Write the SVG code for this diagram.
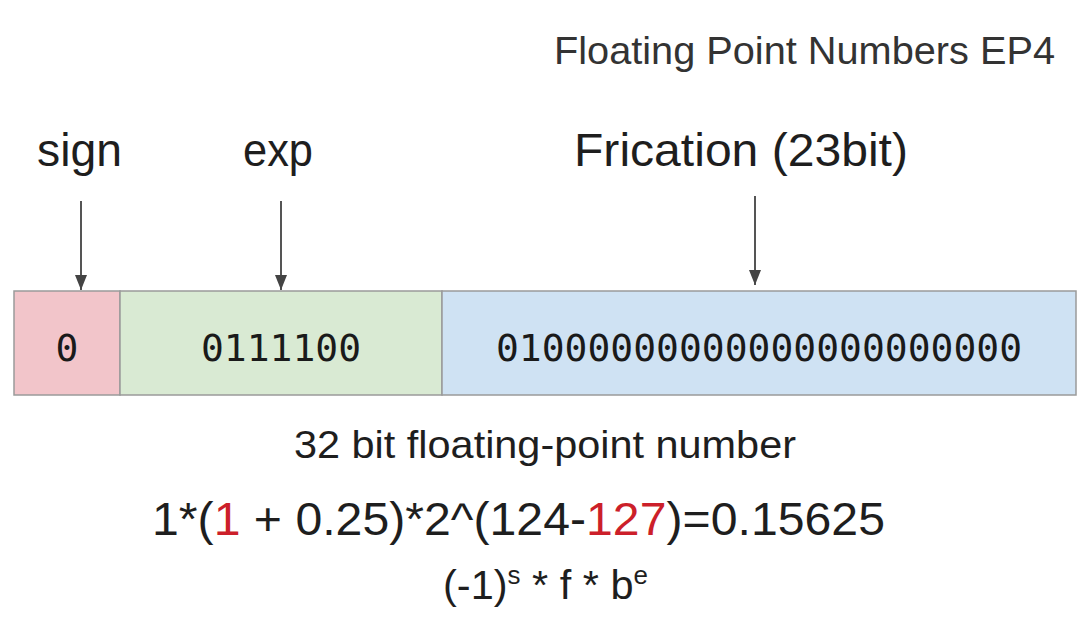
<svg xmlns="http://www.w3.org/2000/svg" width="1090" height="618" viewBox="0 0 1090 618">
  <style>
    .lbl { font-family: "Liberation Sans", Arial, sans-serif; fill: #1e1e1e; }
    .mono { font-family: "DejaVu Sans Mono", "Liberation Mono", monospace; font-size: 38px; fill: #1a1a1a; text-anchor: middle; }
    .cell { stroke: #9a9a9a; stroke-width: 1.5; }
    .red { fill: #cc1f2a; }
    .arrow { stroke: #555555; stroke-width: 2; fill: none; marker-end: url(#ah); }
  </style>
  <defs>
    <marker id="ah" markerUnits="userSpaceOnUse" markerWidth="15" markerHeight="12" refX="15" refY="6" orient="auto" viewBox="0 0 15 12">
      <path d="M0,0 L15,6 L0,12 Z" fill="#444444"/>
    </marker>
  </defs>
  <rect width="1090" height="618" fill="#ffffff"/>

  <g id="title">
    <text class="lbl" x="554" y="64" font-size="39" textLength="501" lengthAdjust="spacingAndGlyphs" style="fill:#333333">Floating Point Numbers EP4</text>
  </g>

  <g id="label-sign">
    <text class="lbl" x="37" y="166" font-size="46" textLength="85" lengthAdjust="spacingAndGlyphs">sign</text>
  </g>
  <g id="label-exp">
    <text class="lbl" x="243" y="166" font-size="46" textLength="70" lengthAdjust="spacingAndGlyphs">exp</text>
  </g>
  <g id="label-fraction">
    <text class="lbl" x="574" y="166" font-size="46" textLength="334" lengthAdjust="spacingAndGlyphs">Frication (23bit)</text>
  </g>

  <g id="cell-sign">
    <rect class="cell" x="14" y="291" width="106" height="104" fill="#f2c5ca"/>
    <text class="mono" x="67" y="361">0</text>
  </g>
  <g id="cell-exp">
    <rect class="cell" x="120" y="291" width="322" height="104" fill="#d9ead3"/>
    <text class="mono" x="281" y="361">0111100</text>
  </g>
  <g id="cell-fraction">
    <rect class="cell" x="442" y="291" width="634" height="104" fill="#cfe2f3"/>
    <text class="mono" x="759" y="361">01000000000000000000000</text>
  </g>

  <g id="connectors">
    <line class="arrow" x1="81" y1="201" x2="81" y2="290"/>
    <line class="arrow" x1="281" y1="201" x2="281" y2="290"/>
    <line class="arrow" x1="755" y1="196" x2="755" y2="285"/>
  </g>

  <g id="caption">
    <text class="lbl" x="294" y="458" font-size="39" textLength="502" lengthAdjust="spacingAndGlyphs">32 bit floating-point number</text>
  </g>

  <g id="formula">
    <text class="lbl" x="152" y="535" font-size="47" textLength="733" lengthAdjust="spacingAndGlyphs">1*(<tspan class="red">1</tspan> + 0.25)*2^(124-<tspan class="red">127</tspan>)=0.15625</text>
  </g>

  <g id="general-formula">
    <text class="lbl" x="443" y="599" font-size="40" textLength="205" lengthAdjust="spacingAndGlyphs">(-1)<tspan font-size="25" dy="-15">s</tspan><tspan dy="15"> * f * b</tspan><tspan font-size="25" dy="-15">e</tspan></text>
  </g>
</svg>
